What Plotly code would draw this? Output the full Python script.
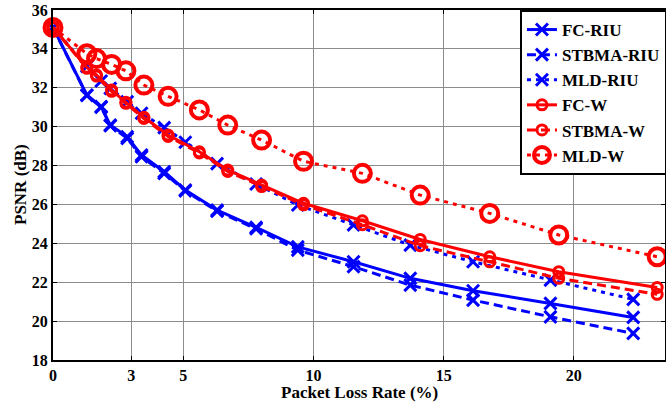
import plotly.graph_objects as go

# Packet loss rates (%)
x_riu = [0, 1.3, 1.85, 2.2, 2.85, 3.4, 4.27, 5.08, 6.3, 7.8, 9.4, 11.54, 13.72, 16.13, 19.1, 22.28]
x_w = [0, 1.3, 1.67, 2.25, 2.8, 3.49, 4.42, 5.62, 6.71, 8.01, 9.62, 11.88, 14.1, 16.77, 19.42, 23.2]

# PSNR (dB)
fc_riu = [35.1, 31.63, 31.03, 30.08, 29.48, 28.54, 27.68, 26.74, 25.71, 24.82, 23.82, 23.05, 22.2, 21.56, 20.91, 20.19]
stbma_riu = [35.1, 31.6, 31.0, 30.05, 29.4, 28.45, 27.6, 26.7, 25.65, 24.75, 23.65, 22.8, 21.85, 21.08, 20.22, 19.37]
mld_riu = [35.1, 33.1, 32.35, 31.97, 31.28, 30.69, 29.95, 29.2, 28.1, 27.05, 25.97, 24.95, 23.91, 23.05, 22.11, 21.12]
fc_w = [35.1, 33.05, 32.66, 31.88, 31.25, 30.48, 29.57, 28.71, 27.77, 27.0, 26.06, 25.16, 24.2, 23.31, 22.54, 21.73]
stbma_w = [35.1, 33.0, 32.6, 31.82, 31.2, 30.42, 29.5, 28.65, 27.7, 26.92, 25.98, 24.96, 23.88, 23.05, 22.2, 21.38]
mld_w = [35.1, 33.75, 33.5, 33.2, 32.87, 32.14, 31.56, 30.86, 30.08, 29.31, 28.22, 27.6, 26.48, 25.54, 24.43, 23.31]

x_ticks = [0, 3, 5, 10, 15, 20]
y_ticks = [18, 20, 22, 24, 26, 28, 30, 32, 34, 36]

BLUE = "#0000ff"
RED = "#ff0000"
FONT = "Liberation Serif"

fig = go.Figure()

def add(name, x, y, color, dash, symbol, size, mlw):
    fig.add_trace(go.Scatter(
        x=x, y=y, name=name, mode="lines+markers",
        line=dict(color=color, width=3, dash=dash),
        marker=dict(symbol=symbol, size=size, color=color,
                    line=dict(color=color, width=mlw)),
        cliponaxis=False,
    ))

add("FC-RIU", x_riu, fc_riu, BLUE, "solid", "x-thin", 12, 3)
add("STBMA-RIU", x_riu, stbma_riu, BLUE, "9px,5px", "x-thin", 12, 3)
add("MLD-RIU", x_riu, mld_riu, BLUE, "4px,5px", "x-thin", 12, 3)
add("FC-W", x_w, fc_w, RED, "solid", "circle-open", 10, 3)
add("STBMA-W", x_w, stbma_w, RED, "9px,5px", "circle-open", 10, 3)
add("MLD-W", x_w, mld_w, RED, "4px,5px", "circle-open", 17, 4)

axis_common = dict(
    showgrid=True, gridcolor="#8c8c8c", gridwidth=1,
    showline=True, linecolor="black", linewidth=2, mirror="ticks",
    ticks="inside", ticklen=4, tickcolor="black",
    tickfont=dict(family=FONT, size=16, color="black", weight="bold"),
    zeroline=False,
)

title_font = dict(family=FONT, size=17, color="black", weight="bold")

fig.update_layout(
    width=666, height=405,
    margin=dict(l=53, r=1, t=10, b=45, autoexpand=False),
    paper_bgcolor="white", plot_bgcolor="white",
    xaxis=dict(range=[0, 23.5], tickvals=x_ticks, **axis_common),
    yaxis=dict(range=[18, 36], tickvals=y_ticks, **axis_common),
    legend=dict(x=0.763, y=1, xanchor="left", yanchor="top",
                bgcolor="white", bordercolor="black", borderwidth=2,
                font=dict(family=FONT, size=17, color="black", weight="bold"),
                tracegroupgap=0, itemwidth=30),
    showlegend=True,
    annotations=[
        dict(text="Packet Loss Rate (%)", xref="paper", yref="paper",
             x=0.5, y=-32 / 350, xanchor="center", yanchor="middle",
             showarrow=False, font=title_font),
        dict(text="PSNR (dB)", xref="paper", yref="paper",
             x=-33 / 612, y=0.5, xanchor="center", yanchor="middle",
             textangle=-90, showarrow=False, font=title_font),
    ],
)

fig.write_html("out.html", config={"displayModeBar": False},
               post_script="document.body.style.margin='0';")
